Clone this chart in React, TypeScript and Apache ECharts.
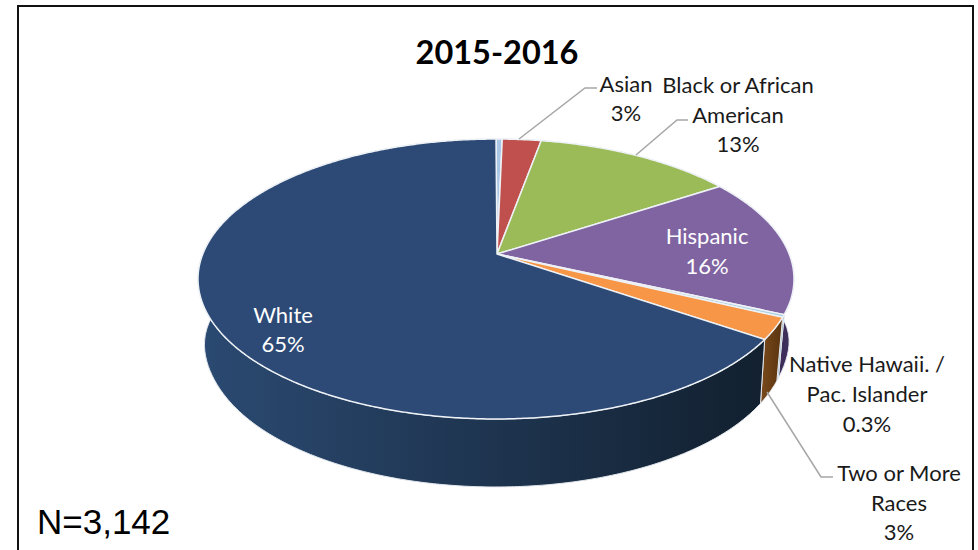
import React, { useEffect, useRef } from "react";
import * as echarts from "echarts";

const categories = ["American Indian", "Asian", "Black or African American", "Hispanic", "Native Hawaii. / Pac. Islander", "Two or More Races", "White"];
const shares = [0.4, 2.5, 12.9, 16.0, 0.3, 2.5, 65.4];
const topColors = ["#a9c6e6", "#c0504d", "#9bbb59", "#8064a2", "#a9cfe0", "#f79646", "#2c4a75"];
const sideColors = [
  ["#7a97b8", "#7a97b8"], ["#7f3331", "#7f3331"], ["#68803a", "#68803a"],
  ["#2f2347", "#3e2f5c"], ["#5f8ea0", "#5f8ea0"], ["#7a4a1c", "#59330f"],
  ["#2b4a72", "#12202f"],
];
const title = "2015-2016";
const footnote = "N=3,142";
const labelLines: [string, number, number, string][] = [
  ["Asian", 626, 83, "#1a1a1a"], ["3%", 626, 112, "#1a1a1a"],
  ["Black or African", 738, 84, "#1a1a1a"], ["American", 738, 114, "#1a1a1a"], ["13%", 738, 143, "#1a1a1a"],
  ["Hispanic", 707, 235, "#ffffff"], ["16%", 707, 265, "#ffffff"],
  ["White", 283, 314, "#ffffff"], ["65%", 283, 343, "#ffffff"],
  ["Native Hawaii. /", 867, 363, "#1a1a1a"], ["Pac. Islander", 867, 393, "#1a1a1a"], ["0.3%", 867, 423, "#1a1a1a"],
  ["Two or More", 899, 472, "#1a1a1a"], ["Races", 899, 502, "#1a1a1a"], ["3%", 899, 531, "#1a1a1a"],
];
const leaders = [
  [[519, 139], [585, 88], [597, 88]],
  [[636, 155], [677, 120], [688, 120]],
  [[767, 392], [821, 477], [833, 477]],
];

const CX = 496, CY = 254, A = 293.2, B = 135.5, K = 0.1786;
const CY2 = 318, A2 = 281, B2 = 131.8, K2 = 0.22;

function rim(turn: number, bottom: boolean): number[] {
  const t = turn * 2 * Math.PI;
  const u = Math.sin(t), v = -Math.cos(t);
  if (bottom) {
    const d = 1 - K2 * v;
    // the wall of the pie stands nearly straight at its left and right ends
    const right = 6 * Math.exp(-(((t - 1.66) / 0.25) ** 2));
    const left = -4 * Math.exp(-(((t - 4.62) / 0.3) ** 2));
    return [CX + (A2 * u) / d + right + left, CY2 + (B2 * v) / d];
  }
  const d = 1 - K * v;
  return [CX + (A * u) / d, CY + (B * v) / d];
}
function arc(from: number, to: number, bottom: boolean): number[][] {
  const n = Math.max(2, Math.ceil((to - from) * 720));
  const pts: number[][] = [];
  for (let i = 0; i <= n; i++) pts.push(rim(from + ((to - from) * i) / n, bottom));
  return pts;
}
const total = shares.reduce((a, b) => a + b, 0);
function bounds(i: number): [number, number] {
  let acc = 0;
  for (let j = 0; j < i; j++) acc += shares[j];
  return [acc / total, (acc + shares[i]) / total];
}

export default function App() {
  const ref = useRef<HTMLDivElement>(null);
  useEffect(() => {
    document.body.style.margin = "0";
    const chart = echarts.init(ref.current!, undefined, { renderer: "svg" });
    const data = shares.map((v, i) => ({ name: categories[i], value: [v] }));
    const font = "Lato";
    chart.setOption({
      animation: false,
      backgroundColor: "#ffffff",
      series: [
        {
          type: "custom",
          coordinateSystem: "none",
          silent: true,
          data,
          renderItem: (p: any) => {
            const [a, b] = bounds(p.dataIndex);
            const pts = arc(a, b, false).concat(arc(a, b, true).reverse());
            const c = sideColors[p.dataIndex];
            return {
              type: "polygon",
              shape: { points: pts },
              style: {
                fill: { type: "linear", x: 0, y: 0, x2: 1, y2: 0, colorStops: [{ offset: 0, color: c[0] }, { offset: 1, color: c[1] }] },
                stroke: "#e4e9ef",
                lineWidth: 1,
              },
            };
          },
        },
        {
          type: "custom",
          coordinateSystem: "none",
          silent: true,
          data,
          renderItem: (p: any) => {
            const [a, b] = bounds(p.dataIndex);
            return {
              type: "polygon",
              shape: { points: [[CX + 1, CY]].concat(arc(a, b, false)) },
              style: { fill: topColors[p.dataIndex], stroke: "#eef2f6", lineWidth: 1.5, lineJoin: "round" },
            };
          },
        },
      ],
      graphic: [
        { type: "rect", silent: true, z: 1, shape: { x: 18, y: 6, width: 955, height: 560 }, style: { fill: "none", stroke: "#111111", lineWidth: 2 } },
        { type: "text", silent: true, z: 20, x: 497, y: 51, style: { text: title, font: `bold 32.5px ${font}`, fill: "#000000", align: "center", verticalAlign: "middle" } },
        { type: "text", silent: true, z: 20, x: 37, y: 521, style: { text: footnote, font: `35px "Liberation Sans"`, fill: "#000000", align: "left", verticalAlign: "middle" } },
        ...leaders.map((points) => ({ type: "polyline", silent: true, z: 20, shape: { points }, style: { stroke: "#a6a6a6", lineWidth: 1.5, fill: "none" } })),
        ...labelLines.map(([text, x, y, fill]) => ({ type: "text", silent: true, z: 20, x, y, style: { text, x: 0, y: 0, font: `22px ${font}`, fill, align: "center", verticalAlign: "middle" } })),
      ],
    });
    return () => chart.dispose();
  }, []);
  return <div ref={ref} style={{ position: "absolute", left: 0, top: 0, width: 978, height: 550 }} />;
}
